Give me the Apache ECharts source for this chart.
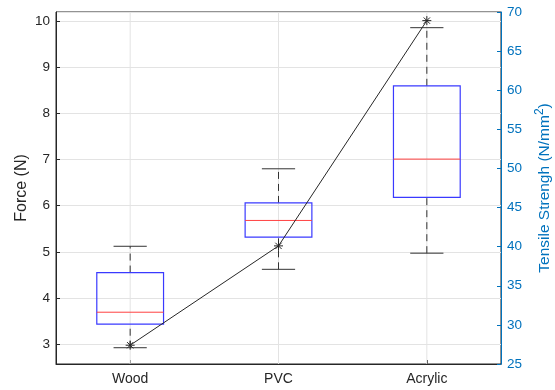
<!DOCTYPE html>
<html style="height: 100%">
    <head>
        <meta charset="utf-8">
    </head>
    <body style="height: 100%; margin: 0; background: #fff">
        <div id="container" style="width: 555px; height: 390px"></div>

        <script type="text/javascript" src="https://cdn.jsdelivr.net/npm/echarts@6/dist/echarts.min.js"></script>

        <script type="text/javascript">
var dom = document.getElementById("container");
var myChart = echarts.init(dom);

// data
var categories = ['Wood', 'PVC', 'Acrylic'];
var whiskerLow = [2.92, 4.62, 4.97];
var q1 = [3.43, 5.32, 6.18];
var median = [3.69, 5.68, 7.01];
var q3 = [4.55, 6.06, 8.60];
var whiskerHigh = [5.12, 6.80, 9.86];
var tensile = [27.4, 40.1, 68.9];

var forceMin = 2.567, forceMax = 10.2;
var font = 'Liberation Sans';
var dark = '#262626';
var blueAxis = '#0072BD';

var boxData = categories.map(function (c, i) {
  return [i, whiskerLow[i], q1[i], median[i], q3[i], whiskerHigh[i]];
});
var starData = categories.map(function (c, i) {
  return [i, tensile[i]];
});

function renderBox(params, api) {
  var i = api.value(0);
  var band = api.size([1, 0])[0];
  var half = band * 0.225;
  var cap = band * 0.112;
  var pLow = api.coord([i, api.value(1)]);
  var pQ1 = api.coord([i, api.value(2)]);
  var pMed = api.coord([i, api.value(3)]);
  var pQ3 = api.coord([i, api.value(4)]);
  var pHigh = api.coord([i, api.value(5)]);
  var gTop = api.coord([i, forceMax]);
  var gBot = api.coord([i, forceMin]);
  var x = pMed[0];
  var dash = { stroke: '#333', lineWidth: 1, lineDash: [7, 5] };
  var solid = { stroke: '#333', lineWidth: 1 };
  return {
    type: 'group',
    children: [
      { type: 'line', shape: { x1: x, y1: gTop[1], x2: x, y2: gBot[1] }, style: { stroke: '#e3e3e3', lineWidth: 1 } },
      { type: 'line', shape: { x1: x, y1: pLow[1], x2: x, y2: pQ1[1] }, style: dash },
      { type: 'line', shape: { x1: x, y1: pQ3[1], x2: x, y2: pHigh[1] }, style: dash },
      { type: 'line', shape: { x1: x - cap, y1: pLow[1], x2: x + cap, y2: pLow[1] }, style: solid },
      { type: 'line', shape: { x1: x - cap, y1: pHigh[1], x2: x + cap, y2: pHigh[1] }, style: solid },
      { type: 'rect', shape: { x: x - half, y: pQ3[1], width: half * 2, height: pQ1[1] - pQ3[1] }, style: { fill: 'none', stroke: '#3a3aff', lineWidth: 1.2 } },
      { type: 'line', shape: { x1: x - half, y1: pMed[1], x2: x + half, y2: pMed[1] }, style: { stroke: '#ff4040', lineWidth: 1 } }
    ]
  };
}

function renderStar(params, api) {
  var p = api.coord([api.value(0), api.value(1)]);
  var r = 4.5, d = r * 0.7;
  var st = { stroke: dark, lineWidth: 1 };
  return {
    type: 'group',
    children: [
      { type: 'line', shape: { x1: p[0] - r, y1: p[1], x2: p[0] + r, y2: p[1] }, style: st },
      { type: 'line', shape: { x1: p[0], y1: p[1] - r, x2: p[0], y2: p[1] + r }, style: st },
      { type: 'line', shape: { x1: p[0] - d, y1: p[1] - d, x2: p[0] + d, y2: p[1] + d }, style: st },
      { type: 'line', shape: { x1: p[0] - d, y1: p[1] + d, x2: p[0] + d, y2: p[1] - d }, style: st }
    ]
  };
}

var option = {
  animation: false,
  grid: {
    left: 56, right: 54, top: 12, bottom: 26,
    outerBoundsMode: 'none',
    show: true, borderColor: dark, borderWidth: 1
  },
  xAxis: {
    type: 'category',
    data: categories,
    boundaryGap: true,
    axisLine: { lineStyle: { color: dark } },
    axisTick: { show: true, inside: true, alignWithLabel: true, length: 4, lineStyle: { color: dark } },
    axisLabel: { color: dark, fontFamily: font, fontSize: 14, margin: 8 },
    splitLine: { show: false }
  },
  yAxis: [
    {
      type: 'value',
      min: forceMin,
      max: forceMax,
      splitNumber: 8,
      name: 'Force (N)',
      nameLocation: 'middle',
      nameGap: 26,
      nameMoveOverlap: false,
      nameTextStyle: { color: dark, fontFamily: font, fontSize: 16 },
      axisLine: { show: true, lineStyle: { color: dark } },
      axisTick: { show: true, inside: true, length: 4, lineStyle: { color: dark } },
      axisLabel: { color: dark, fontFamily: font, fontSize: 13.5, margin: 6, showMinLabel: false, showMaxLabel: false },
      splitLine: { show: true, lineStyle: { color: '#e3e3e3' } }
    },
    {
      type: 'value',
      position: 'right',
      min: 25,
      max: 70,
      interval: 5,
      name: 'Tensile Strengh (N/mm{sup|2})',
      nameLocation: 'middle',
      nameGap: 33,
      nameMoveOverlap: false,
      nameRotate: 90,
      nameTextStyle: {
        color: blueAxis, fontFamily: font, fontSize: 15.5,
        rich: { sup: { color: blueAxis, fontFamily: font, fontSize: 12, padding: [0, 0, 9, 0] } }
      },
      axisLine: { show: true, lineStyle: { color: blueAxis } },
      axisTick: { show: true, inside: true, length: 4, lineStyle: { color: blueAxis } },
      axisLabel: { color: blueAxis, fontFamily: font, fontSize: 13.5, margin: 6 },
      splitLine: { show: false }
    }
  ],
  series: [
    {
      type: 'custom',
      yAxisIndex: 0,
      renderItem: renderBox,
      data: boxData,
      z: 2
    },
    {
      type: 'line',
      yAxisIndex: 1,
      data: tensile,
      symbol: 'none',
      lineStyle: { color: dark, width: 1 },
      z: 3
    },
    {
      type: 'custom',
      yAxisIndex: 1,
      renderItem: renderStar,
      data: starData,
      z: 4
    }
  ]
};

myChart.setOption(option);
        </script>
    </body>
</html>
